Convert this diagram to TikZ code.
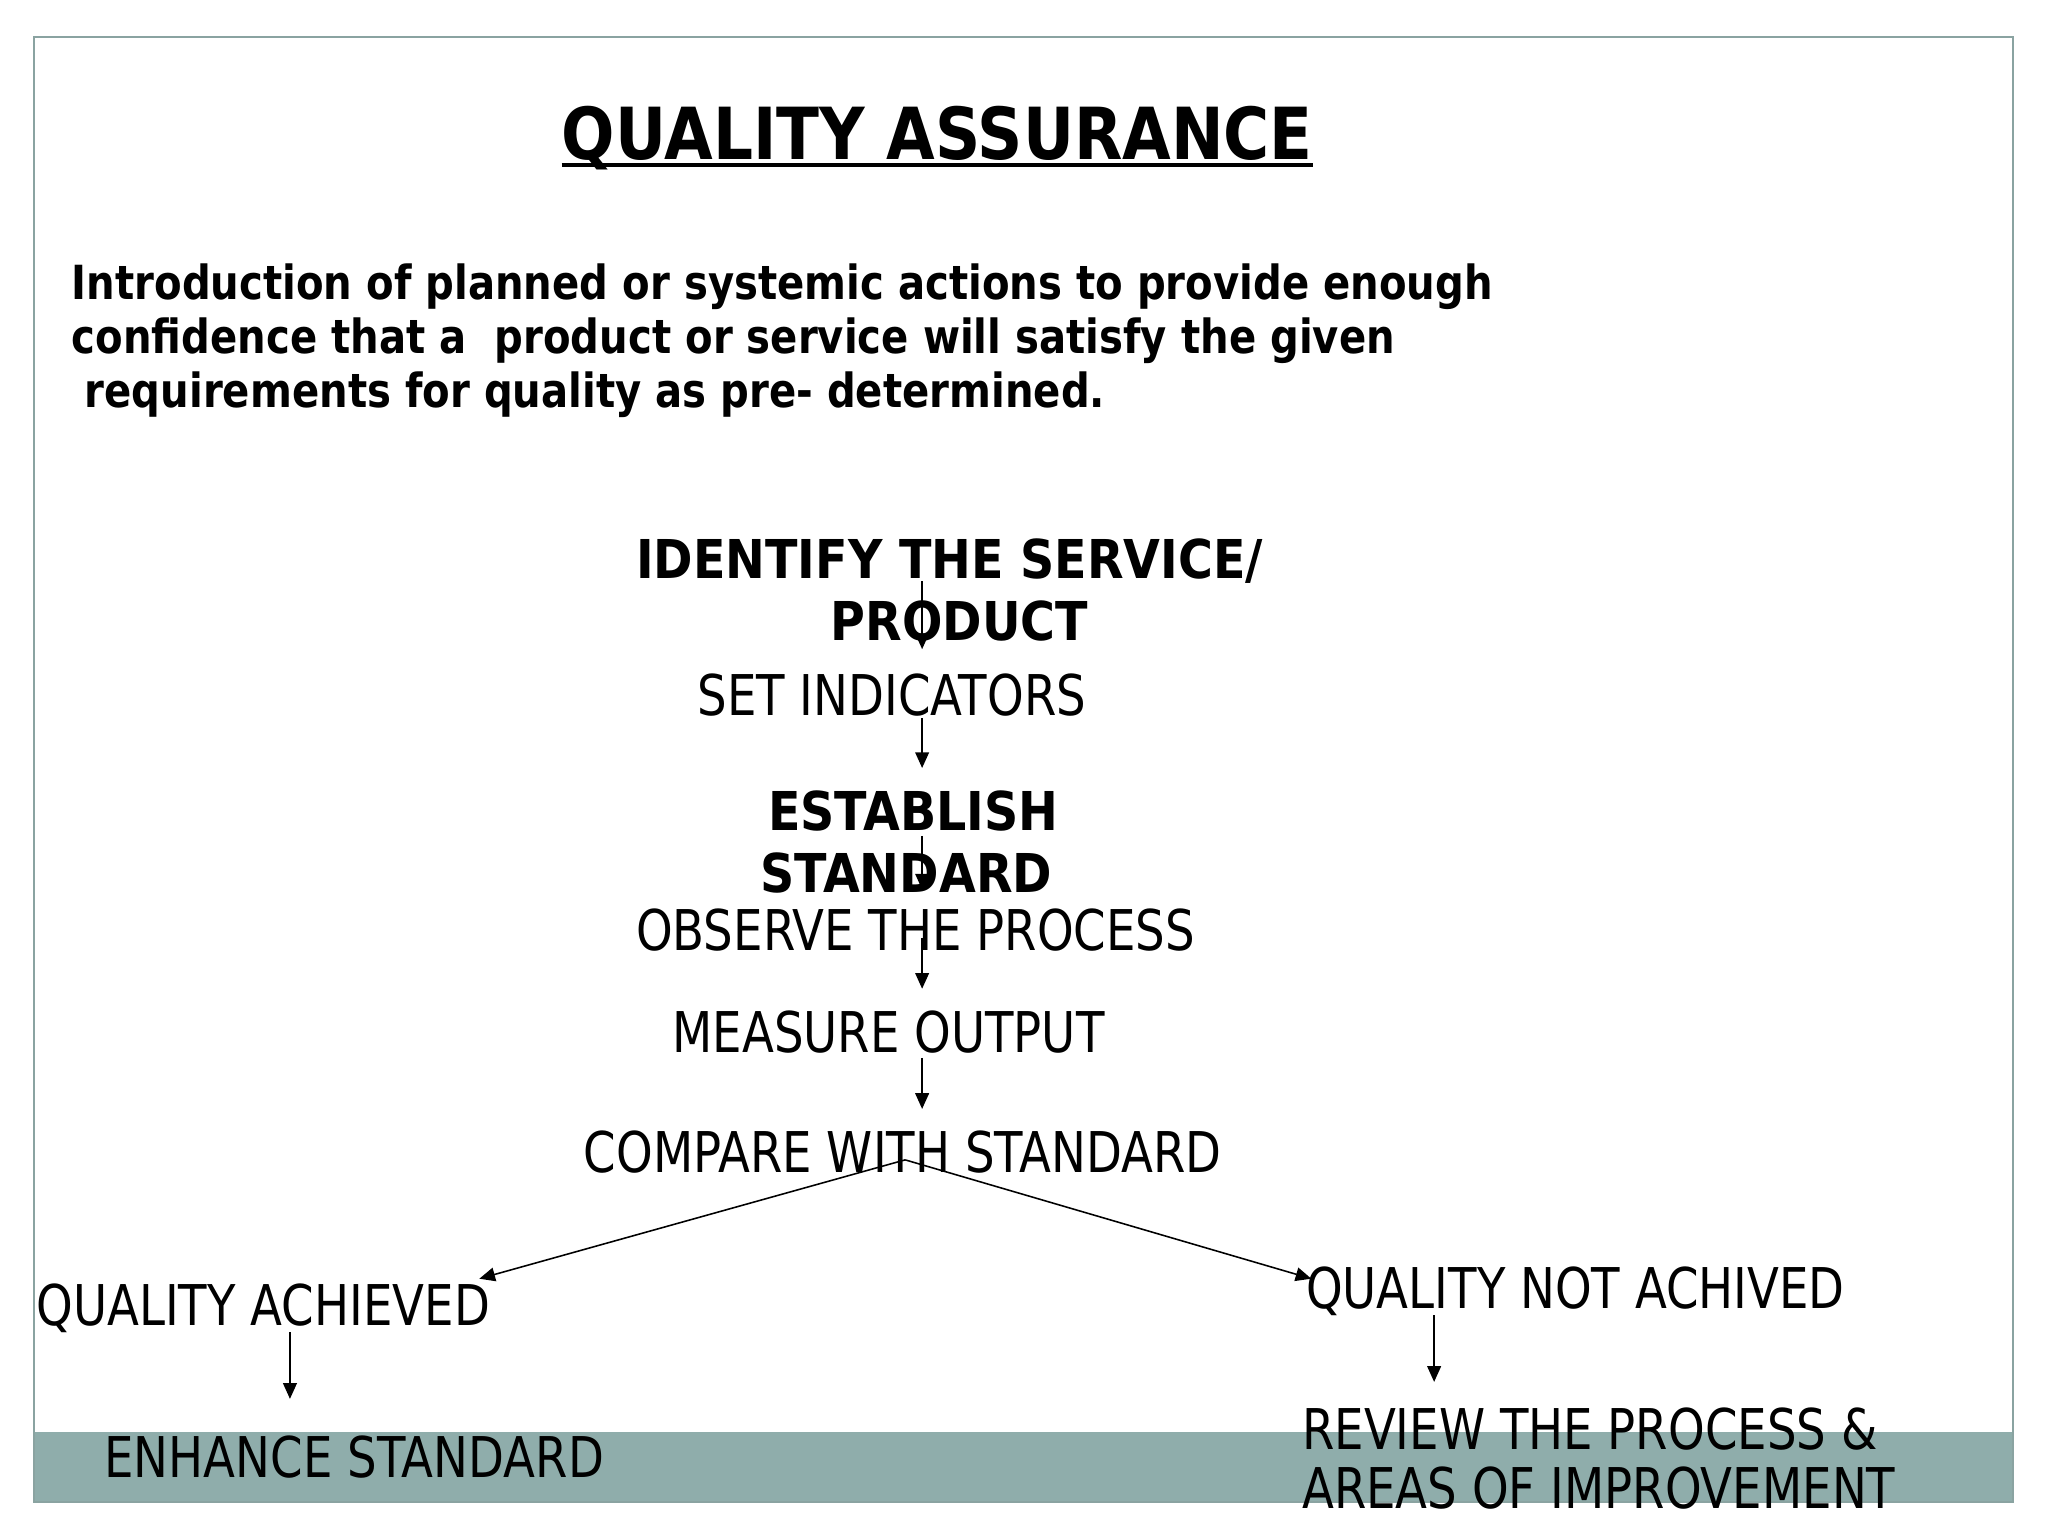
\documentclass[tikz,border=0pt]{standalone}
\usepackage{fontspec}
\setmainfont{DejaVu Sans}
\newfontfamily\cond[FakeStretch=0.83]{DejaVu Sans}
\newfontfamily\condb[FakeStretch=0.888]{DejaVu Sans Bold}
\newfontfamily\titlef[FakeStretch=0.875]{DejaVu Sans Bold}
\newfontfamily\introf[FakeStretch=0.855]{DejaVu Sans Bold}
\usetikzlibrary{arrows.meta}
\definecolor{bandc}{HTML}{8FADAB}
\definecolor{framec}{HTML}{8AA3A1}
\tikzset{
  txt/.style={anchor=base west, inner sep=0pt, outer sep=0pt, font=\cond\fontsize{43}{43}\selectfont},
  btxt/.style={anchor=base west, inner sep=0pt, outer sep=0pt, font=\condb\fontsize{41}{41}\selectfont},
  intro/.style={anchor=base west, inner sep=0pt, outer sep=0pt, font=\introf\fontsize{36}{36}\selectfont},
  arr/.style={-{Triangle[length=12pt,width=10.5pt]}, line width=1.2pt, black},
}
\begin{document}
\begin{tikzpicture}[x=1pt,y=-1pt]
\useasboundingbox (0,0) rectangle (1568,1176);
\fill[white] (0,0) rectangle (1568,1176);
% band and frame
\fill[bandc] (26,1096) rectangle (1541,1150);
\draw[framec, line width=1.5pt] (26,28) rectangle (1541,1150);
% title
\node[anchor=base west, inner sep=0pt, font=\titlef\fontsize{55}{55}\selectfont] (title) at (430,122) {QUALITY ASSURANCE};
\draw[line width=3pt] ([yshift=-4.5pt]title.base west) -- ([yshift=-4.5pt]title.base east);
% intro
\node[intro] (in1) at (55,229) {Introduction of planned or systemic actions to provide enough};
\node[intro] (in2) at (55,271) {confidence that a\ \ product or service will satisfy the given};
\node[intro] (in3) at (65,312) {requirements for quality as pre- determined.};
% flow
\node[btxt] (id1) at (487,443) {IDENTIFY THE SERVICE/};
\node[btxt] (id2) at (636,490) {PRODUCT};
\node[txt] (set) at (534,548) {SET INDICATORS};
\node[btxt] (es1) at (588,636) {ESTABLISH};
\node[btxt] (es2) at (582,683) {STANDARD};
\node[txt] (obs) at (487,728) {OBSERVE THE PROCESS};
\node[txt] (mea) at (515,806) {MEASURE OUTPUT};
\node[txt] (cmp) at (447,898) {COMPARE WITH STANDARD};
\node[txt] (qa) at (28,1015) {QUALITY ACHIEVED};
\node[txt] (en) at (80,1131) {ENHANCE STANDARD};
\node[txt] (qn) at (1000,1002) {QUALITY NOT ACHIVED};
\node[txt] (rv1) at (997,1110) {REVIEW THE PROCESS \&};
\node[txt] (rv2) at (997,1155) {AREAS OF IMPROVEMENT};
% connector end points
\coordinate (a1s) at (706,445); \coordinate (a1e) at (706,497);
\coordinate (a2s) at (706,550); \coordinate (a2e) at (706,588);
\coordinate (a3s) at (706,640); \coordinate (a3e) at (706,681);
\coordinate (a4s) at (706,718); \coordinate (a4e) at (706,757);
\coordinate (a5s) at (706,810); \coordinate (a5e) at (706,849);
\coordinate (apx) at (693,888);
\coordinate (lft) at (367,979);
\coordinate (rgt) at (1004,979);
\coordinate (a7s) at (222,1020); \coordinate (a7e) at (222,1071);
\coordinate (a8s) at (1098,1007); \coordinate (a8e) at (1098,1058);
\draw[arr] (a1s) -- (a1e);
\draw[arr] (a2s) -- (a2e);
\draw[arr] (a3s) -- (a3e);
\draw[arr] (a4s) -- (a4e);
\draw[arr] (a5s) -- (a5e);
\draw[arr] (apx) -- (lft);
\draw[arr] (apx) -- (rgt);
\draw[arr] (a7s) -- (a7e);
\draw[arr] (a8s) -- (a8e);
\end{tikzpicture}
\end{document}
